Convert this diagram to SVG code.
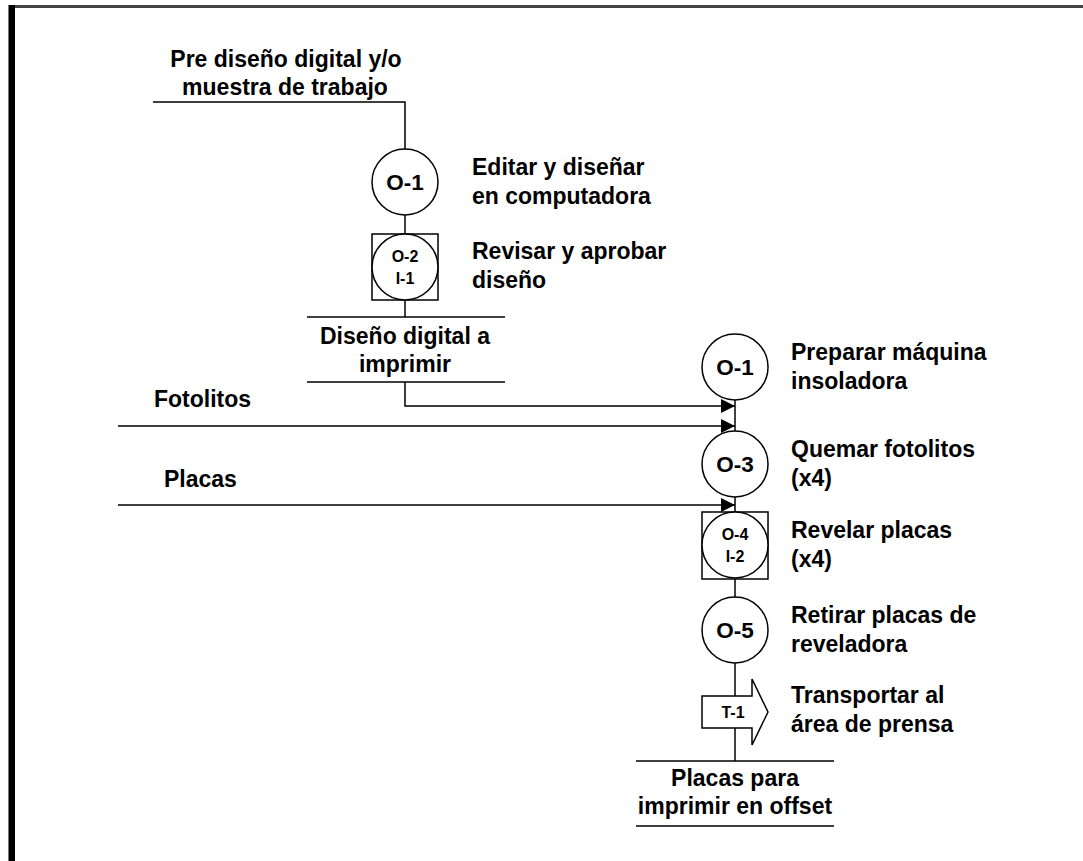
<svg xmlns="http://www.w3.org/2000/svg" width="1083" height="861" viewBox="0 0 1083 861">
  <defs>
    <marker id="arrow" viewBox="0 0 14 14" refX="14" refY="7" markerWidth="14" markerHeight="14" markerUnits="userSpaceOnUse" orient="auto">
      <path d="M0,0 L14,7 L0,14 Z" fill="#000"/>
    </marker>
  </defs>
  <style>
    .ln { fill: none; stroke: #000; stroke-width: 1.5; }
    .sym { fill: #fff; stroke: #000; stroke-width: 1.5; }
    .t { font-family: "Liberation Sans", Arial, sans-serif; font-weight: bold; font-size: 23px; fill: #000; }
    .c { text-anchor: middle; }
    .id { font-family: "Liberation Sans", Arial, sans-serif; font-weight: bold; font-size: 22.5px; text-anchor: middle; fill: #000; }
    .id2 { font-family: "Liberation Sans", Arial, sans-serif; font-weight: bold; font-size: 16px; text-anchor: middle; fill: #000; }
  </style>
  <rect width="1083" height="861" fill="#fff"/>
  <!-- page frame -->
  <rect x="8" y="5" width="1075" height="3" fill="#444"/>
  <rect x="8" y="5" width="7" height="856" fill="#000"/>
  <rect x="8" y="5" width="1" height="856" fill="#777"/>

  <!-- connectors -->
  <g id="connectors">
    <path class="ln" d="M153,102 H405 V149"/>
    <path class="ln" d="M405,215 V234"/>
    <path class="ln" d="M405,300 V317"/>
    <path class="ln" d="M307,317 H505"/>
    <path class="ln" d="M307,382 H505"/>
    <path class="ln" d="M405,382 V406 H735" marker-end="url(#arrow)"/>
    <path class="ln" d="M118,426 H735" marker-end="url(#arrow)"/>
    <path class="ln" d="M118,505 H735" marker-end="url(#arrow)"/>
    <path class="ln" d="M735,400 V431"/>
    <path class="ln" d="M735,497 V512"/>
    <path class="ln" d="M735,579 V597"/>
    <path class="ln" d="M735,663 V761"/>
    <path class="ln" d="M636,761 H834"/>
    <path class="ln" d="M636,826 H834"/>
  </g>

  <!-- input / output labels -->
  <g id="in-pre-diseno">
    <text class="t c" x="286" y="67">Pre diseño digital y/o</text>
    <text class="t c" x="285" y="95">muestra de trabajo</text>
  </g>
  <g id="mid-diseno-digital">
    <text class="t c" x="405" y="344">Diseño digital a</text>
    <text class="t c" x="405" y="372">imprimir</text>
  </g>
  <g id="in-fotolitos">
    <text class="t" x="154" y="407">Fotolitos</text>
  </g>
  <g id="in-placas">
    <text class="t" x="164" y="487">Placas</text>
  </g>
  <g id="out-placas-offset">
    <text class="t c" x="735" y="786">Placas para</text>
    <text class="t c" x="735" y="814">imprimir en offset</text>
  </g>

  <!-- left column operations -->
  <g id="op-o1-editar">
    <circle class="sym" cx="405" cy="182" r="33"/>
    <text class="id" x="405" y="190">O-1</text>
    <text class="t" x="472" y="175">Editar y diseñar</text>
    <text class="t" x="472" y="204">en computadora</text>
  </g>
  <g id="op-o2-i1-revisar">
    <rect class="sym" x="372" y="234" width="66" height="66"/>
    <circle class="sym" cx="405" cy="267" r="33"/>
    <text class="id2" x="405" y="262">O-2</text>
    <text class="id2" x="405" y="284">I-1</text>
    <text class="t" x="472" y="259">Revisar y aprobar</text>
    <text class="t" x="472" y="288">diseño</text>
  </g>

  <!-- right column operations -->
  <g id="op-o1-preparar">
    <circle class="sym" cx="735" cy="367" r="33"/>
    <text class="id" x="735" y="375">O-1</text>
    <text class="t" x="791" y="360">Preparar máquina</text>
    <text class="t" x="791" y="389">insoladora</text>
  </g>
  <g id="op-o3-quemar">
    <circle class="sym" cx="735" cy="464" r="33"/>
    <text class="id" x="735" y="472">O-3</text>
    <text class="t" x="791" y="457">Quemar fotolitos</text>
    <text class="t" x="791" y="486">(x4)</text>
  </g>
  <g id="op-o4-i2-revelar">
    <rect class="sym" x="702" y="512" width="66" height="67"/>
    <circle class="sym" cx="735" cy="545" r="33"/>
    <text class="id2" x="735" y="540">O-4</text>
    <text class="id2" x="735" y="562">I-2</text>
    <text class="t" x="791" y="538">Revelar placas</text>
    <text class="t" x="791" y="567">(x4)</text>
  </g>
  <g id="op-o5-retirar">
    <circle class="sym" cx="735" cy="630" r="33"/>
    <text class="id" x="735" y="638">O-5</text>
    <text class="t" x="791" y="623">Retirar placas de</text>
    <text class="t" x="791" y="652">reveladora</text>
  </g>
  <g id="tr-t1-transportar">
    <path class="sym" d="M702,696 H752 V679 L768,712 L752,745 V728 H702 Z"/>
    <text class="id2" x="733" y="718">T-1</text>
    <text class="t" x="791" y="703">Transportar al</text>
    <text class="t" x="791" y="732">área de prensa</text>
  </g>
</svg>
